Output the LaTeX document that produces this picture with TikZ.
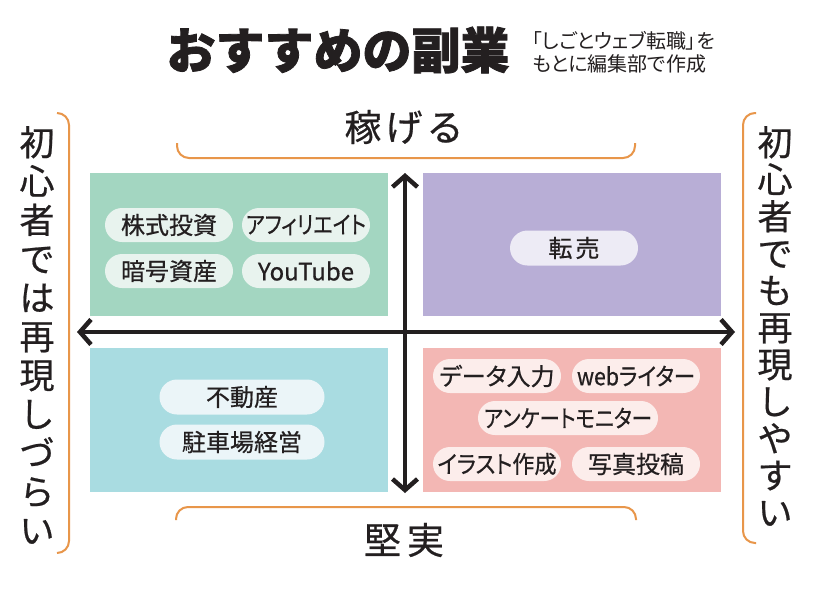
\documentclass[tikz,border=0pt]{standalone}
\usepackage{fontspec}
\usepackage{graphicx}
\usetikzlibrary{arrows.meta,shapes.misc}
\newfontfamily\cjk[FakeBold=0.6]{Noto Sans CJK JP}
\newfontfamily\cjkp[RawFeature=+palt,FakeBold=0.6]{Noto Sans CJK JP}
\newfontfamily\cjks[RawFeature=+palt]{Noto Sans CJK JP}
\newfontfamily\cjkt[BoldFeatures={FakeBold=1.6}]{Noto Sans CJK JP}
\definecolor{ink}{HTML}{231F20}
\definecolor{brk}{HTML}{E8964A}
\definecolor{qgreen}{HTML}{A3D6C1}
\definecolor{qpurple}{HTML}{B8AED6}
\definecolor{qblue}{HTML}{A9DCE1}
\definecolor{qpink}{HTML}{F3B7B4}
\definecolor{pgreen}{HTML}{E8F3EE}
\definecolor{ppurple}{HTML}{EDEBF5}
\definecolor{pblue}{HTML}{EBF5F8}
\definecolor{ppink}{HTML}{FCEDEB}
\newsavebox\pbox
\newcommand\fitto[2]{\sbox\pbox{#2}\ifdim\wd\pbox>#1\relax\resizebox{#1}{\height}{\usebox\pbox}\else\usebox\pbox\fi}
\tikzset{
  quad/.style={inner sep=0pt, draw=none, minimum width=298pt, minimum height=143pt},
  pill/.style={rounded rectangle, inner sep=0pt, minimum height=34pt, minimum width=128pt,
    font=\cjkp\fontsize{24}{28}\selectfont, text=ink},
  bracket/.style={draw=brk, line width=2pt, rounded corners=12pt},
  axisline/.style={draw=ink, line width=4.5pt,
    {Straight Barb[length=11pt,width=25pt]}-{Straight Barb[length=11pt,width=25pt]}},
  lbl/.style={text=ink, inner sep=0pt}
}
\begin{document}
\begin{tikzpicture}[x=1pt,y=-1pt]
\useasboundingbox (0,0) rectangle (820,598);
\fill[white] (0,0) rectangle (820,598);

% title
\node[lbl, font=\cjkt\bfseries\fontsize{49}{55}\selectfont] (title) at (338,50) {おすすめの副業};
\node[lbl, anchor=west, align=left, font=\cjks\fontsize{20}{23}\selectfont] (sub) at (532,52)
  {「しごとウェブ転職」を\\もとに編集部で作成};

% quadrants
\node[quad, fill=qgreen] (qtl) at (239,244) {};
\node[quad, fill=qpurple] (qtr) at (572,244) {};
\node[quad, fill=qblue, minimum height=144pt] (qbl) at (239,420) {};
\node[quad, fill=qpink, minimum height=144pt] (qbr) at (572,420) {};

% axes
\coordinate (atop) at (405,173);
\coordinate (abot) at (405,493);
\coordinate (aleft) at (77,332);
\coordinate (aright) at (735,332);
\draw[axisline] (abot) -- (atop);
\draw[axisline] (aleft) -- (aright);

% pills top-left
\node[pill, fill=pgreen] (p1) at (169,225) {株式投資};
\node[pill, fill=pgreen] (p2) at (306,225) {\fitto{120pt}{アフィリエイト}};
\node[pill, fill=pgreen] (p3) at (169,271) {暗号資産};
\node[pill, fill=pgreen] (p4) at (306,271) {\fitto{120pt}{YouTube}};
% top-right
\node[pill, fill=ppurple, minimum height=35pt] (p5) at (574,248) {転\hspace{3pt}売};
% bottom-left
\node[pill, fill=pblue, minimum width=165pt, minimum height=35pt] (p6) at (242,397) {不動産};
\node[pill, fill=pblue, minimum width=165pt, minimum height=35pt] (p7) at (242,442) {駐車場経営};
% bottom-right
\node[pill, fill=ppink] (p8) at (497,376) {\fitto{120pt}{データ入力}};
\node[pill, fill=ppink] (p9) at (636,376) {\fitto{118pt}{webライター}};
\node[pill, fill=ppink, minimum width=180pt] (p10) at (568,418) {\fitto{168pt}{アンケートモニター}};
\node[pill, fill=ppink] (p11) at (497,464) {\fitto{119pt}{イラスト作成}};
\node[pill, fill=ppink] (p12) at (636,464) {写真投稿};

% axis labels
\node[lbl, font=\cjk\fontsize{37}{40}\selectfont] (earn) at (404,127) {稼\hspace{4pt}げ\hspace{4pt}る};
\node[lbl, font=\cjk\fontsize{37}{40}\selectfont] (solid) at (404,540) {堅\hspace{6pt}実};
\node[lbl, align=center, font=\cjk\fontsize{35}{38.8}\selectfont] (hard) at (37,335)
  {初\\心\\者\\で\\は\\再\\現\\し\\づ\\ら\\い};
\node[lbl, align=center, font=\cjk\fontsize{35}{37}\selectfont] (easy) at (775,326)
  {初\\心\\者\\で\\も\\再\\現\\し\\や\\す\\い};

% brackets
\draw[bracket] (177,143) |- (635,158) -- (635,143);
\draw[bracket] (176,520) |- (636,507) -- (636,520);
\draw[bracket] (57,113) -| (69,553) -- (57,553);
\draw[bracket] (756,113) -| (743,543) -- (756,543);
\end{tikzpicture}
\end{document}
